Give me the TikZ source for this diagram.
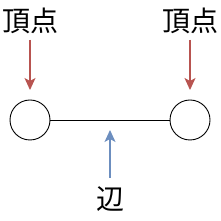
\documentclass[tikz,border=0pt]{standalone}
\usepackage{fontspec}
\newfontfamily\cjk{Noto Sans CJK JP}
\usetikzlibrary{arrows.meta}
\definecolor{arrred}{HTML}{B85450}
\definecolor{arrblue}{HTML}{6C8EBF}
\tikzset{
  vertex/.style={circle,draw=black,line width=0.9pt,minimum size=40pt,inner sep=0pt},
  lbl/.style={font=\cjk\fontsize{28pt}{30pt}\selectfont,inner sep=0pt},
  edgeline/.style={draw=black,line width=0.9pt},
  pointer/.style={line width=1.2pt,-{Stealth[length=12pt,width=11pt,inset=3pt]}},
  redptr/.style={pointer,draw=arrred,fill=arrred},
  blueptr/.style={pointer,draw=arrblue,fill=arrblue}
}
\begin{document}
\begin{tikzpicture}[x=1pt,y=1pt]
\useasboundingbox (0,0) rectangle (221,221);
\node[vertex] (v1) at (30,101) {};
\node[vertex] (v2) at (190,101) {};
\node[lbl] (l1) at (30,200.5) {頂点};
\node[lbl] (l2) at (190,200.5) {頂点};
\node[lbl] (le) at (110,21.5) {辺};
\draw[edgeline] (v1) -- (v2) coordinate[pos=0.5] (e);
\draw[redptr,shorten <=19.5pt,shorten >=30pt] (l1.center) -- (v1.center);
\draw[redptr,shorten <=19.5pt,shorten >=30pt] (l2.center) -- (v2.center);
\draw[blueptr,shorten <=21.5pt,shorten >=10pt] (le.center) -- (e);
\end{tikzpicture}
\end{document}
